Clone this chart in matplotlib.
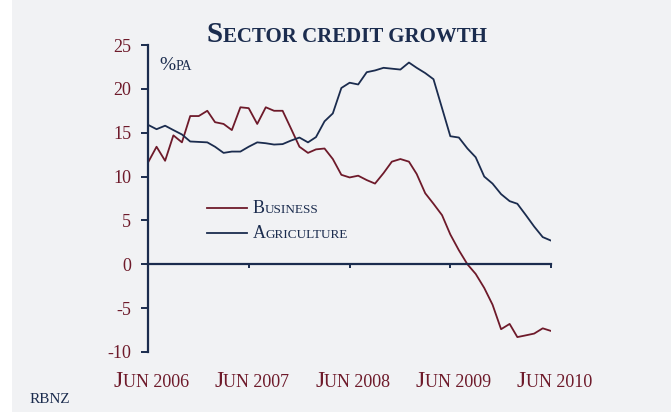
import matplotlib
matplotlib.use("Agg")
import matplotlib.pyplot as plt
import pandas as pd
from matplotlib.transforms import IdentityTransform
from matplotlib.patches import Rectangle
from matplotlib.lines import Line2D

# monthly, Jun 2006 .. Jun 2010 (% pa)
months = pd.date_range("2006-06-30", "2010-06-30", freq="ME")
business = [11.6, 13.4, 11.8, 14.7, 13.9, 16.9, 16.9, 17.5, 16.2, 16.0,
            15.3, 17.9, 17.8, 16.0, 17.9, 17.5, 17.5, 15.5, 13.4, 12.7,
            13.1, 13.2, 12.0, 10.2, 9.9, 10.1, 9.6, 9.2, 10.4, 11.7,
            12.0, 11.7, 10.3, 8.1, 6.9, 5.6, 3.4, 1.6, 0.0, -1.1,
            -2.7, -4.6, -7.4, -6.8, -8.3, -8.1, -7.9, -7.3, -7.6]
agriculture = [15.9, 15.4, 15.8, 15.3, 14.8, 14.0, 13.95, 13.9, 13.4, 12.7,
               12.85, 12.85, 13.4, 13.9, 13.8, 13.65, 13.7, 14.1, 14.45, 13.9,
               14.5, 16.3, 17.2, 20.1, 20.7, 20.5, 21.9, 22.1, 22.4, 22.3,
               22.2, 23.0, 22.4, 21.8, 21.1, 17.8, 14.6, 14.45, 13.2, 12.2,
               10.0, 9.2, 8.0, 7.2, 6.9, 5.6, 4.3, 3.1, 2.7]
tick_dates = pd.to_datetime(["2006-06-30", "2007-06-30", "2008-06-30",
                             "2009-06-30", "2010-06-30"])
tick_labels = ["Jun 2006", "Jun 2007", "Jun 2008", "Jun 2009", "Jun 2010"]
yticks = [-10, -5, 0, 5, 10, 15, 20, 25]

RED = "#6e1a2a"
NAVY = "#1b2c4e"
BG = "#f1f2f4"
FONT = "Liberation Serif"

W, H = 671, 412
fig = plt.figure(figsize=(W / 100, H / 100), dpi=100, facecolor="white")
fig.patches.append(Rectangle((12, 0), W - 12, H, transform=IdentityTransform(),
                             facecolor=BG, edgecolor="none", zorder=-10))

ax = fig.add_axes([148 / W, 60 / H, 403 / W, 307 / H])
ax.set_facecolor("none")
ax.plot(months, business, color=RED, lw=1.3)
ax.plot(months, agriculture, color=NAVY, lw=1.3)
ax.set_xlim(months[0], months[-1])
ax.set_ylim(-10, 25)

for s in ["top", "right"]:
    ax.spines[s].set_visible(False)
ax.spines["left"].set_color(NAVY)
ax.spines["left"].set_linewidth(1.6)
ax.spines["bottom"].set_position(("data", 0))
ax.spines["bottom"].set_color(NAVY)
ax.spines["bottom"].set_linewidth(1.6)

ax.set_yticks(yticks)
ax.set_yticklabels([str(v) for v in yticks])
ax.tick_params(axis="y", direction="out", length=5, width=1.4, color=NAVY,
               labelcolor=RED, labelsize=13, pad=7)
for lab in ax.get_yticklabels():
    lab.set_fontfamily(FONT)
ax.set_xticks(tick_dates)
ax.tick_params(axis="x", direction="out", length=3, width=1.4, color=NAVY,
               labelbottom=False)

fig.canvas.draw()
renderer = fig.canvas.get_renderer()


def smallcaps(x, y, s, big, small, color, ha="left", weight="normal"):
    # fake small caps: first letter big, the rest upper-cased and smaller
    parts = [(s[0], big), (s[1:].upper(), small)]
    objs = []
    for t, size in parts:
        txt = fig.text(0, y, t, fontsize=size, color=color, family=FONT,
                       weight=weight, va="baseline", ha="left",
                       transform=IdentityTransform())
        objs.append(txt)
    widths = [o.get_window_extent(renderer).width for o in objs]
    start = x - sum(widths) / 2 if ha == "center" else x
    for o, w in zip(objs, widths):
        o.set_position((start, y))
        start += w


smallcaps(347, 370, "Sector credit growth", 21, 15, NAVY, ha="center", weight="bold")
smallcaps(159, 342, "%pa", 14, 10, NAVY)

for d, lab in zip(tick_dates, tick_labels):
    xd = ax.transData.transform((matplotlib.dates.date2num(d), 0))[0]
    smallcaps(xd + 3, 25, lab, 17, 13, RED, ha="center")

# legend
for yy, col, name in [(204, RED, "Business"), (179, NAVY, "Agriculture")]:
    fig.lines.append(Line2D([207, 247], [yy, yy], color=col, lw=1.3,
                            transform=IdentityTransform()))
    smallcaps(253, yy - 5, name, 13, 9.5, NAVY)

fig.text(30, 9, "RBNZ", fontsize=11, color=NAVY, family=FONT,
         transform=IdentityTransform(), va="baseline")

fig.savefig("out.png", dpi=100, facecolor=fig.get_facecolor())
